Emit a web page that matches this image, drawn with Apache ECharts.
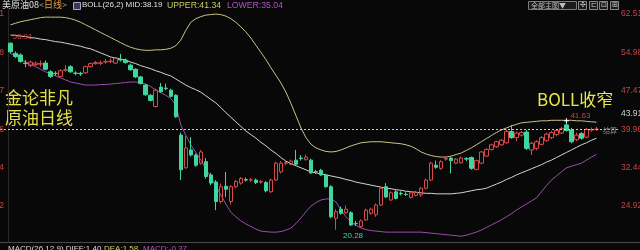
<!DOCTYPE html>
<html><head><meta charset="utf-8">
<script src="https://cdn.jsdelivr.net/npm/echarts@6/dist/echarts.min.js"></script>
<style>html,body{margin:0;padding:0;background:#080808}#c{width:640px;height:250px}</style>
</head><body><div id="c"></div>
<script>
// [open, close, low, high]
const kline = [
[56.8,55.1,54.8,56.91],[54.8,54.2,53.9,55.2],[54.5,53.2,53.0,54.8],[52.9,52.8,52.1,53.5],[52.4,53.1,52.1,53.4],
[52.6,52.9,52.3,53.2],[52.7,52.8,52.2,53.4],[52.9,51.7,51.5,53.4],[51.2,50.3,50.0,51.5],[50.9,50.85,50.4,51.3],
[50.3,51.4,50.1,51.7],[51.5,51.6,51.2,52.5],[52.2,51.2,51.0,52.5],[50.95,50.9,50.5,51.3],[50.9,50.8,50.4,51.2],
[51.0,52.2,50.8,52.4],[52.2,52.8,52.0,53.0],[52.8,53.0,52.6,53.3],[52.85,52.95,52.5,53.4],[53.1,53.2,52.8,53.7],
[53.2,53.3,52.9,53.8],[52.9,53.9,52.7,54.1],[53.6,53.5,53.2,54.7],[53.5,53.0,52.8,53.8],[52.5,51.6,51.4,52.8],
[51.7,50.2,50.0,51.9],[50.2,48.9,48.7,50.4],[48.6,46.7,46.5,48.8],[46.6,45.6,45.4,46.8],[44.4,47.6,44.2,47.9],
[48.2,47.3,47.1,49.0],[48.0,47.9,47.6,48.9],[47.6,46.4,46.2,47.9],[46.6,42.4,42.2,46.8],[38.8,32.0,30.0,39.3],
[32.4,36.3,32.2,38.6],[35.9,34.9,34.6,38.4],[34.9,32.9,32.6,35.2],[33.3,35.5,33.0,35.9],[33.6,30.7,30.3,34.3],
[31.0,29.4,29.0,31.4],[29.6,25.8,24.1,30.0],[25.8,28.7,25.4,29.3],[28.8,28.2,26.7,31.6],[25.8,28.7,25.2,29.0],
[28.7,29.7,28.4,30.0],[29.4,30.3,29.1,30.6],[30.1,30.0,29.7,30.5],[30.0,30.05,29.6,30.4],[30.0,29.5,29.2,30.3],
[29.6,29.7,29.3,30.0],[29.5,27.9,27.6,29.8],[27.7,30.0,27.5,30.3],[30.0,33.3,29.8,33.6],[31.6,33.3,31.3,33.7],
[33.3,33.4,32.9,33.9],[33.1,33.7,32.9,34.0],[33.9,33.1,32.9,35.9],[34.3,34.2,33.8,34.9],[34.0,34.5,33.8,35.0],
[33.9,31.4,31.2,34.2],[31.65,31.6,31.2,32.0],[31.9,31.0,30.8,32.2],[31.0,28.7,28.5,31.2],[28.7,22.8,22.5,29.0],
[22.5,23.8,20.28,24.3],[24.3,23.5,23.2,24.8],[23.6,24.3,23.4,25.0],[23.6,21.2,21.0,23.9],[21.5,21.45,21.0,22.0],
[20.9,22.0,20.6,22.3],[22.2,24.1,22.0,24.4],[23.5,24.3,23.2,24.6],[23.2,25.1,22.8,25.4],[25.1,28.4,24.9,28.7],
[28.7,26.7,26.5,29.4],[26.1,27.5,25.9,27.8],[27.7,26.4,26.2,28.0],[27.4,27.3,27.0,27.8],[27.2,27.15,26.9,27.6],
[26.6,27.5,26.4,27.8],[27.0,27.6,26.8,27.9],[27.1,28.4,26.7,28.6],[28.4,30.0,28.2,30.3],[30.0,33.3,29.8,33.6],
[32.9,32.5,32.2,33.8],[32.3,33.6,32.0,33.9],[34.1,34.2,33.8,34.7],[34.3,33.8,31.3,34.5],[33.3,34.1,33.1,34.3],
[33.4,34.3,33.2,34.6],[34.2,34.1,33.7,34.5],[34.4,32.3,32.0,34.6],[32.1,33.8,31.9,34.0],[33.3,35.5,33.1,35.7],
[34.7,36.0,34.5,36.2],[36.0,36.9,35.8,37.1],[36.5,37.5,36.3,37.7],[36.9,37.8,36.7,38.0],[37.3,39.5,37.1,39.9],
[39.5,38.3,38.1,40.8],[38.3,39.2,37.6,39.5],[38.8,39.3,38.5,39.6],[39.4,36.2,35.9,39.8],[35.9,37.2,34.9,37.5],
[36.2,37.5,35.8,37.8],[37.0,38.3,36.8,38.6],[37.7,39.0,37.5,39.3],[38.3,39.3,38.0,39.6],[38.9,39.7,38.6,40.0],
[39.2,40.1,39.0,40.4],[40.8,39.7,39.5,41.63],[39.8,37.5,37.2,40.2],[37.9,38.8,37.6,39.3],[39.1,38.2,37.9,39.4],
[38.4,39.9,38.2,40.2],[39.8,39.9,39.5,40.3],[39.95,39.96,39.6,40.4]
];
const upper = [
60.4,60.7,61.0,61.2,61.4,61.6,61.8,61.9,61.9,61.9,61.9,61.8,61.6,61.3,60.9,60.4,59.9,59.4,58.9,58.4,
57.9,57.4,56.9,56.4,56.0,55.7,55.5,55.4,55.4,55.5,55.5,55.6,55.8,56.3,57.4,59.3,60.9,61.6,62.0,62.3,
62.4,62.5,62.4,62.1,61.6,60.9,60.0,59.0,57.8,56.4,55.0,53.6,52.0,50.5,49.0,47.2,45.0,42.6,40.2,38.3,
37.0,36.3,35.9,35.6,35.5,35.6,35.9,36.3,36.7,37.0,37.3,37.4,37.5,37.5,37.5,37.4,37.3,37.2,37.1,36.9,
36.6,36.1,35.5,35.1,34.8,34.6,34.5,34.5,34.7,35.0,35.3,35.8,36.3,36.9,37.5,38.1,38.7,39.3,39.8,40.2,
40.6,40.9,41.2,41.3,41.4,41.5,41.6,41.6,41.7,41.7,41.7,41.7,41.7,41.6,41.6,41.5,41.4,41.34
];
const mid = [
58.4,58.3,58.2,58.1,57.9,57.8,57.6,57.5,57.3,57.1,57.0,56.8,56.6,56.4,56.2,55.9,55.7,55.3,54.9,54.5,
54.1,53.9,53.7,53.5,53.1,52.8,52.4,52.1,51.8,51.4,51.1,50.7,50.4,49.8,49.2,48.6,48.1,47.7,47.2,46.5,
45.8,45.1,44.2,43.2,42.3,41.4,40.5,39.6,38.9,38.2,37.4,36.7,35.9,35.2,34.4,33.7,33.2,32.8,32.4,32.0,
31.6,31.4,31.2,31.0,30.8,30.6,30.4,30.1,29.9,29.6,29.4,29.2,29.0,28.8,28.6,28.4,28.3,28.1,28.0,27.8,
27.7,27.6,27.5,27.4,27.4,27.3,27.3,27.3,27.3,27.4,27.5,27.7,27.9,28.1,28.2,28.4,28.8,29.2,29.6,30.1,
30.5,31.0,31.4,31.8,32.2,32.6,33.0,33.5,33.9,34.4,34.9,35.4,35.9,36.4,36.9,37.3,37.8,38.19
];
const lower = [
54.8,54.3,53.7,53.1,52.6,52.2,51.7,51.2,50.8,50.4,50.0,49.6,49.2,49.0,48.8,48.6,48.6,48.6,48.7,48.7,
48.8,48.9,49.0,49.1,49.2,49.2,49.0,48.8,48.3,47.6,47.1,46.6,46.0,44.7,40.8,38.8,36.9,35.4,33.9,32.2,
30.6,28.8,27.1,25.3,23.7,22.8,22.0,21.4,20.9,20.4,20.0,19.9,19.8,19.8,19.9,20.2,20.6,21.5,22.6,23.8,
24.9,25.6,26.1,26.3,26.3,25.7,24.1,22.8,21.8,21.1,20.6,20.3,20.1,20.0,19.9,19.8,19.8,19.8,19.8,19.8,
19.8,19.8,19.8,19.7,19.6,19.5,19.4,19.3,19.2,19.1,19.0,19.2,19.5,19.8,20.2,20.7,21.2,21.7,22.2,22.8,
23.4,24.1,24.7,25.3,25.9,26.5,27.7,28.9,30.0,30.8,31.6,32.4,32.7,33.0,33.3,33.9,34.5,35.04
];
const yTicks = [62.51, 54.98, 47.47, 39.96, 32.44, 24.92];
const refLevel = 43.91;
const emptySlots = 4;
const categories = kline.map((_, i) => 'd' + (i + 1));
for (let k = 0; k < emptySlots; k++) categories.push('e' + (k + 1));

const hiIdx = 111, loIdx = 65, firstIdx = 0;
const lastClose = kline[kline.length - 1][1];

const yMin = 17.87, yMax = 63.69;
const RED = '#d84a4a', GREEN = '#40d69e', LBL = '#c84444';
const FONT = 'Liberation Sans, Noto Sans CJK SC, sans-serif';
const CJK = 'Noto Sans CJK SC, sans-serif';

const chart = echarts.init(document.getElementById('c'));
chart.setOption({
  backgroundColor: '#080808',
  animation: false,
  grid: {left: 8, right: 21, top: 8, bottom: 8, containLabel: false, outerBoundsMode: 'none'},
  xAxis: {type: 'category', data: categories, boundaryGap: true,
    axisLine: {show: false}, axisTick: {show: false}, axisLabel: {show: false}, splitLine: {show: false}},
  yAxis: [
    {type: 'value', position: 'right', min: yMin, max: yMax, scale: true,
     axisLine: {show: false}, axisTick: {show: false}, splitLine: {show: false},
     axisLabel: {customValues: yTicks, formatter: v => v.toFixed(2), color: LBL, fontSize: 8.5, margin: 2, fontFamily: FONT}},
    {type: 'value', position: 'left', min: yMin, max: yMax, scale: true,
     axisLine: {show: true, lineStyle: {color: '#2c2626'}}, axisTick: {show: false}, splitLine: {show: false},
     axisLabel: {customValues: yTicks, formatter: v => v.toFixed(2), color: LBL, fontSize: 8.5, margin: 4, fontFamily: FONT}}
  ],
  series: [
    {type: 'line', data: upper, symbol: 'none', lineStyle: {color: '#cbc188', width: 1}, z: 2},
    {type: 'line', data: mid, symbol: 'none', lineStyle: {color: '#d4d4d0', width: 1}, z: 2},
    {type: 'line', data: lower, symbol: 'none', lineStyle: {color: '#9c4cb0', width: 1}, z: 2},
    {type: 'candlestick', data: kline, barWidth: 4, z: 3,
     itemStyle: {color: 'rgba(0,0,0,0)', color0: GREEN, borderColor: RED, borderColor0: GREEN, borderColorDoji: RED, borderWidth: 1},
     markLine: {symbol: ['none', 'none'], silent: true, animation: false,
       data: [
         {yAxis: lastClose, lineStyle: {type: [2, 2], color: '#d0ccc0', width: 1},
          label: {show: true, formatter: '结算', position: 'insideEndTop', distance: 0, offset: [-2, 4.5], color: '#8c8c8c', fontSize: 7, fontFamily: CJK}},
         {yAxis: refLevel, lineStyle: {color: 'rgba(0,0,0,0)', width: 0},
          label: {show: true, formatter: refLevel.toFixed(2), position: 'end', distance: 2, offset: [0, 5], color: '#cfcfcf', fontSize: 8.5, fontFamily: FONT}}
       ]},
     markPoint: {animation: false,
       data: [
         {coord: [categories[firstIdx], kline[firstIdx][3]], symbol: 'circle', symbolSize: 1, itemStyle: {color: 'rgba(0,0,0,0)'},
          label: {show: true, formatter: kline[firstIdx][3].toFixed(2), position: 'inside', offset: [12, -6], color: LBL, fontSize: 8, fontFamily: FONT}},
         {coord: [categories[hiIdx], kline[hiIdx][3]], symbol: 'path://M0,2H5V3H0Z M2,0H3V5H2Z', symbolSize: 5, itemStyle: {color: '#ffffff'},
          label: {show: true, formatter: kline[hiIdx][3].toFixed(2), position: 'inside', offset: [14, -5], color: LBL, fontSize: 8, fontFamily: FONT}},
         {coord: [categories[loIdx], kline[loIdx][2]], symbol: 'circle', symbolSize: 1, itemStyle: {color: 'rgba(0,0,0,0)'},
          label: {show: true, formatter: kline[loIdx][2].toFixed(2), position: 'inside', offset: [17, 6], color: GREEN, fontSize: 8, fontFamily: FONT}}
       ]}
    }
  ],
  graphic: [
    {type: 'line', shape: {x1: 0, y1: 242.5, x2: 640, y2: 242.5}, style: {stroke: '#4a4a4a', lineWidth: 1}, silent: true},
    {type: 'text', x: 2, y: 0.5, style: {text: '{w|美原油08}{g|<}{o|日线}{g|>}', font: '9px ' + CJK,
      rich: {w: {fill: '#e0e0e0', fontSize: 9, fontFamily: CJK}, g: {fill: '#9a9a9a', fontSize: 9, fontFamily: CJK}, o: {fill: '#e8a040', fontSize: 9, fontFamily: CJK}}}},
    {type: 'rect', shape: {x: 73.5, y: 2.5, width: 7, height: 7}, style: {fill: '#3a3a55', stroke: '#a8a8c8', lineWidth: 1}},
    {type: 'text', x: 82, y: 1, style: {text: 'BOLL(26,2) MID:38.19', fill: '#e0e0e0', font: '8px ' + FONT}},
    {type: 'text', x: 167, y: 1, style: {text: 'UPPER:41.34', fill: '#c8cc60', font: '8.7px ' + FONT}},
    {type: 'text', x: 227, y: 1, style: {text: 'LOWER:35.04', fill: '#b054c4', font: '8.7px ' + FONT}},
    {type: 'rect', shape: {x: 528.5, y: 1.5, width: 48, height: 8}, style: {fill: '#1a1a1a', stroke: '#7a7a7a', lineWidth: 1}},
    {type: 'text', x: 531, y: 1.5, style: {text: '全部主图▼', fill: '#bdbdbd', font: '7px ' + CJK}},
    {type: 'rect', shape: {x: 578.5, y: 1.5, width: 8, height: 8}, style: {fill: '#1a1a1a', stroke: '#8a8a8a', lineWidth: 1}},
    {type: 'rect', shape: {x: 589.5, y: 1.5, width: 8, height: 8}, style: {fill: '#1a1a1a', stroke: '#8a8a8a', lineWidth: 1}},
    {type: 'rect', shape: {x: 599.5, y: 1.5, width: 8, height: 8}, style: {fill: '#1a1a1a', stroke: '#8a8a8a', lineWidth: 1}},
    {type: 'rect', shape: {x: 610.5, y: 1.5, width: 8, height: 8}, style: {fill: '#1a1a1a', stroke: '#8a8a8a', lineWidth: 1}},
    {type: 'text', x: 580, y: 1.5, style: {text: '✣', fill: '#cfcfcf', font: '7px DejaVu Sans'}},
    {type: 'text', x: 591, y: 1.5, style: {text: '⊏', fill: '#cfcfcf', font: '7px DejaVu Sans'}},
    {type: 'text', x: 601, y: 1.5, style: {text: '⊡', fill: '#cfcfcf', font: '7px DejaVu Sans'}},
    {type: 'text', x: 612, y: 1.5, style: {text: '⊞', fill: '#cfcfcf', font: '7px DejaVu Sans'}},
    {type: 'line', shape: {x1: 0, y1: 129.5, x2: 8, y2: 129.5}, style: {stroke: '#d0ccc0', lineWidth: 1, lineDash: [2, 2]}, silent: true},
    {type: 'text', x: 5, y: 89, style: {text: '金论非凡', fill: '#e4e04c', font: '17px ' + CJK}},
    {type: 'text', x: 5, y: 109, style: {text: '原油日线', fill: '#e4e04c', font: '17px ' + CJK}},
    {type: 'text', x: 537, y: 91, style: {text: 'BOLL收窄', fill: '#e8e64e', font: '17px ' + CJK}},
    {type: 'text', x: 8, y: 245, style: {text: 'MACD(26,12,9) DIFF:1.40', fill: '#d8d8d8', font: '8px ' + FONT}},
    {type: 'text', x: 104, y: 245, style: {text: 'DEA:1.58', fill: '#d0d060', font: '8px ' + FONT}},
    {type: 'text', x: 143, y: 245, style: {text: 'MACD:-0.37', fill: '#b054c4', font: '8px ' + FONT}}
  ]
});
</script></body></html>
